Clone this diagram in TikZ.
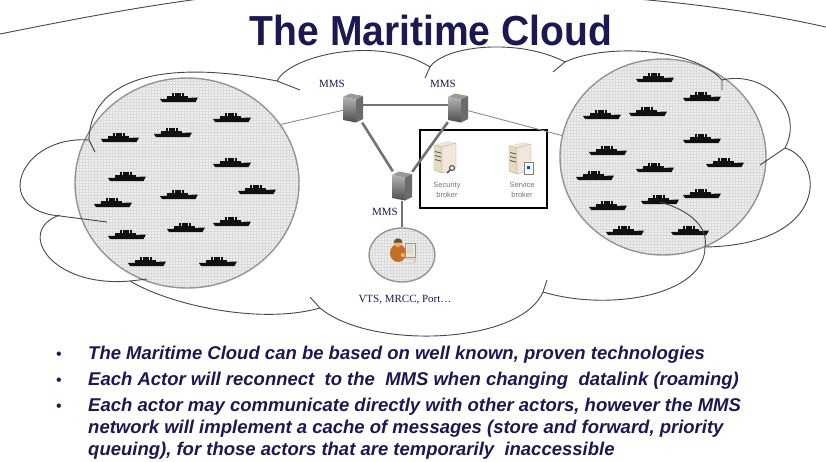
\documentclass[tikz,border=0pt]{standalone}
\usepackage{fontspec}
\setmainfont{Liberation Serif}
\setsansfont{Liberation Sans}
\newfontfamily\titlefont[FakeStretch=0.93]{Liberation Sans}
\usetikzlibrary{shapes.geometric}

\definecolor{navy}{HTML}{1C1950}
\definecolor{hull}{HTML}{101010}
\definecolor{beige}{HTML}{E6DBBE}
\definecolor{blush}{HTML}{F3E6DA}
\definecolor{skin}{HTML}{E8AE74}
\definecolor{shirt}{HTML}{C46F26}

\tikzset{
       title/.style = { navy, anchor=base, inner sep=0pt, font=\titlefont\bfseries\fontsize{42}{42}\selectfont },
        item/.style = { navy, anchor=base west, inner sep=0pt, font=\sffamily\bfseries\itshape\fontsize{18.5}{22}\selectfont },
      bullet/.style = { navy, anchor=base, inner sep=0pt, font=\sffamily\fontsize{16}{16}\selectfont },
    mmslabel/.style = { navy, inner sep=0pt, font=\fontsize{11}{11}\selectfont },
   tinylabel/.style = { black!55, inner sep=0pt, align=center, font=\sffamily\fontsize{7.5}{9.5}\selectfont },
       fleet/.style = { ellipse, draw=black!42, line width=1.4pt, fill=black!7, inner sep=0pt,
                        path picture={\draw[black!14, line width=.35pt] (path picture bounding box.south west)
                                      grid[step=3pt] (path picture bounding box.north east);} },
      server/.style = { inner sep=0pt, minimum width=20pt, minimum height=29pt },
   brokerbox/.style = { draw=black, line width=1.6pt, inner sep=0pt, minimum width=127pt, minimum height=78pt },
        link/.style = { black!55, line width=2.6pt },
    thinlink/.style = { black!45, line width=.9pt },
       cloud/.style = { black!72, line width=.9pt },
   ship/.pic = {
     \fill[hull] (-19,1) -- (19,-.5) -- (16.5,4) -- (-17,4) -- cycle;
     \fill[hull] (-12,-2) rectangle (9,1.5);
     \foreach \fx in {-7,-3.8,-.6,2.6} \fill[hull] (\fx,-5.5) rectangle ++(2.3,4);
   },
   mms/.pic = {
     \fill[black!40] (-10,-11) -- (-3,-14.5) -- (10,-12) -- (3,-8.5) -- cycle;
     \shade[top color=black!30, bottom color=black!70] (-10,-11) -- (3,-8.5) -- (3,14.5) -- (-10,12) -- cycle;
     \fill[black!58] (3,-8.5) -- (10,-12) -- (10,11) -- (3,14.5) -- cycle;
   },
   tower/.pic = {
     \fill[beige!70!white] (-11,-12) -- (3,-16) -- (11,-14) -- (-3,-10) -- cycle;
     \filldraw[draw=black!35, fill=beige, line width=.3pt] (-11,-12) -- (-3,-10) -- (-3,16) -- (-11,13) -- cycle;
     \filldraw[draw=black!35, fill=blush, line width=.3pt] (-3,-10) -- (11,-14) -- (11,12) -- (-3,16) -- cycle;
     \foreach \dy in {-6,-2,2} \fill[black!60] (-10,\dy) -- (-4,\dy+1.5) -- (-4,\dy+2.5) -- (-10,\dy+1) -- cycle;
   },
   actor/.pic = {
     % desk computer
     \filldraw[draw=black!40, fill=beige!70!white, line width=.3pt] (3,-10) rectangle (13,4);
     \fill[black!15] (5,-8) rectangle (11,1);
     \filldraw[draw=black!40, fill=beige!70!white, line width=.3pt] (1,6) -- (14,6) -- (12,10) -- (-1,10) -- cycle;
     % operator
     \fill[shirt] (-4,0) ellipse (8 and 9);
     \fill[skin] (-4,-10) circle (4);
     \fill[brown!60!black] (-8.5,-10.5) .. controls (-8,-16) and (0,-16) .. (0.5,-10.5) -- cycle;
     \fill[skin] (1,2) circle (2.2);
   },
}

\begin{document}
\begin{tikzpicture}[x=1pt, y=-1pt]
  \useasboundingbox (0,0) rectangle (826,461);

  \node (title) at(431,45) [title] {The Maritime Cloud};

  % fleets
  \node (fleetW) at(187,183) [fleet, minimum width=224pt, minimum height=210pt] {};
  \node (fleetE) at(663,157) [fleet, minimum width=206pt, minimum height=196pt] {};
  \foreach \sx/\sy in {179/98, 232/118, 120/138, 173/133, 232/163, 127/177, 257/190,
                       179/195, 113/203, 232/222, 186/228, 127/235, 147/262, 218/262}
    \pic at (\sx,\sy) {ship};
  \foreach \sx/\sy in {655/78, 702/97, 602/115, 648/112, 702/139, 608/151, 725/163,
                       655/168, 595/176, 702/194, 660/200, 608/206, 625/231, 690/231}
    \pic at (\sx,\sy) {ship};

  % cloud outline
  \draw[cloud] (0,34) .. controls (60,22) and (140,6) .. (215,-3);
  \draw[cloud] (625,-2) .. controls (700,4) and (770,14) .. (830,28);
  \draw[cloud] (95,152) -- (89,140) .. controls (90,80) and (160,58) .. (277,81) -- (300,90);
  \draw[cloud] (277,81) .. controls (290,55) and (380,35) .. (430,67) -- (425,78);
  \draw[cloud] (430,67) .. controls (445,45) and (520,38) .. (565,62) -- (553,72);
  \draw[cloud] (565,62) .. controls (600,45) and (690,45) .. (722,80) -- (722,90);
  \draw[cloud] (722,80) .. controls (765,70) and (805,110) .. (785,148) -- (760,165);
  \draw[cloud] (785,148) .. controls (825,160) and (830,245) .. (705,247);
  \draw[cloud] (660,202) .. controls (695,212) and (708,230) .. (705,247)
               .. controls (705,295) and (610,312) .. (543,292) -- (547,280);
  \draw[cloud] (543,292) .. controls (520,345) and (370,350) .. (320,308) -- (310,297);
  \draw[cloud] (320,308) .. controls (260,325) and (170,305) .. (130,281);
  \draw[cloud] (147,279) -- (130,281) .. controls (50,288) and (15,230) .. (60,215);
  \draw[cloud] (89,140) .. controls (20,135) and (-10,210) .. (60,216) -- (107,222);

  % mms network
  \node (mmsA) at(353,108) [server] {};
  \node (mmsB) at(458,108) [server] {};
  \node (mmsC) at(402,186) [server] {};
  \node (actor) at(402,255) [fleet, minimum width=66pt, minimum height=54pt] {};
  \node (brokers) at(483.5,169) [brokerbox] {};

  \draw[thinlink] (mmsA) -- (fleetW.32);
  \draw[thinlink] (mmsB) -- (fleetE.168);
  \draw[link] ([yshift=3pt]mmsA.east) -- ([yshift=3pt]mmsB.west);
  \draw[link] (mmsA) -- (mmsC);
  \draw[link] (mmsB) -- (mmsC);
  \draw[link] (mmsC) -- (actor);

  \pic at (mmsA) {mms};
  \pic at (mmsB) {mms};
  \pic at (mmsC) {mms};
  \node (lblA) at(332,84) [mmslabel] {MMS};
  \node (lblB) at(443,84) [mmslabel] {MMS};
  \node (lblC) at(385,212) [mmslabel] {MMS};

  % brokers
  \pic at (445,157) {tower};
  \draw[black!70, line width=1pt] (452,168) circle (2.5);
  \draw[black!70, line width=1.4pt] (450,170) -- (447,173);
  \node (secLbl) at(447,190) [tinylabel] {Security\\broker};
  \pic at (520,158) {tower};
  \filldraw[draw=black!50, fill=white, line width=.3pt] (524,162) rectangle (533,174);
  \fill[blue!70!cyan] (527,166) rectangle (530,169);
  \node (svcLbl) at(522,190) [tinylabel] {Service\\broker};

  \pic at (402,253) {actor};
  \node (actLbl) at(405,300) [mmslabel] {VTS, MRCC, Port…};

  % bullets
  \node (dotA) at(59,359) [bullet] {\textbullet};
  \node (itemA) at(88,359) [item] {The Maritime Cloud can be based on well known, proven technologies};
  \node (dotB) at(59,385) [bullet] {\textbullet};
  \node (itemB) at(88,385) [item] {Each Actor will reconnect\ \ to the\ \ MMS when changing\ \ datalink (roaming)};
  \node (dotC) at(59,411) [bullet] {\textbullet};
  \node (itemC) at(88,411) [item] {Each actor may communicate directly with other actors, however the MMS};
  \node (itemD) at(88,433) [item] {network will implement a cache of messages (store and forward, priority};
  \node (itemE) at(88,455) [item] {queuing), for those actors that are temporarily\ \ inaccessible};
\end{tikzpicture}
\end{document}
